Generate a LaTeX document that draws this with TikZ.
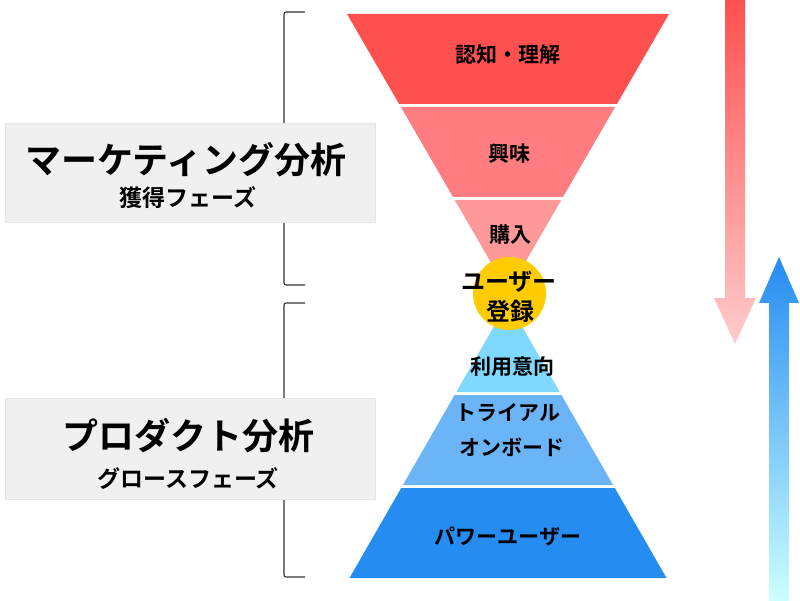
\documentclass[tikz,border=0pt]{standalone}
\usepackage{fontspec}
\setmainfont{Noto Sans CJK JP}[BoldFont={Noto Sans CJK JP Bold}]
\definecolor{rA}{HTML}{FF5050}
\definecolor{rB}{HTML}{FF7C80}
\definecolor{rC}{HTML}{FF9999}
\definecolor{bA}{HTML}{7FD9FF}
\definecolor{bB}{HTML}{6CB4F8}
\definecolor{bC}{HTML}{258CF2}
\definecolor{gold}{HTML}{FFCC00}
\definecolor{boxgray}{HTML}{F0F0F0}
\definecolor{boxline}{HTML}{E6E6E6}
\definecolor{rfade}{HTML}{FFCCCC}
\definecolor{bfade}{HTML}{CCFFFF}
\definecolor{brkcol}{HTML}{333333}
\begin{document}
\begin{tikzpicture}[x=1pt,y=-1pt,
  lbl/.style={font=\bfseries\fontsize{21}{24}\selectfont, text=black, inner sep=0pt},
  circlbl/.style={font=\bfseries\fontsize{24}{27}\selectfont, text=black, inner sep=0pt},
  titlelbl/.style={font=\bfseries\fontsize{36}{40}\selectfont, text=black, inner sep=0pt},
  sublbl/.style={font=\bfseries\fontsize{23}{26}\selectfont, text=black, inner sep=0pt},
  phasebox/.style={fill=boxgray, draw=boxline, line width=0.6pt, inner sep=0pt},
  brk/.style={draw=brkcol, line width=1.1pt, rounded corners=2pt},
  band/.style={draw=none}]
\useasboundingbox (0,0) rectangle (800,601);

% brackets (behind boxes)
\coordinate (b1t) at (305,12);
\coordinate (b1b) at (305,285);
\coordinate (b2t) at (305,303);
\coordinate (b2b) at (305,577);
\draw[brk] (b1t) -- (284,12) -- (284,285) -- (b1b);
\draw[brk] (b2t) -- (284,303) -- (284,577) -- (b2b);

% phase boxes
\node[phasebox, minimum width=370, minimum height=99] (mkbox) at (190,172.5) {};
\node[titlelbl] (mktitle) at (186,160) {マーケティング分析};
\node[sublbl] (mksub) at (188,198) {獲得フェーズ};
\node[phasebox, minimum width=370, minimum height=101] (prbox) at (190,448.5) {};
\node[titlelbl] (prtitle) at (188,436) {プロダクト分析};
\node[sublbl] (prsub) at (188,479) {グロースフェーズ};

% top funnel
\fill[rA] (347,14) -- (669,14) -- (616.9,104) -- (399.1,104) -- cycle;
\fill[rB] (400.9,107) -- (615.1,107) -- (563,197) -- (453,197) -- cycle;
\fill[rC] (454.7,200) -- (561.3,200) -- (508,292) -- cycle;
\node[lbl] (l1) at (508,55) {認知・理解};
\node[lbl] (l2) at (509,154) {興味};
\node[lbl] (l3) at (510,235) {購入};

% bottom pyramid
\fill[bA] (508,302) -- (559.7,392) -- (456.3,392) -- cycle;
\fill[bB] (454.6,395) -- (561.4,395) -- (613.1,485) -- (402.9,485) -- cycle;
\fill[bC] (401.2,488) -- (614.8,488) -- (666.5,578) -- (349.5,578) -- cycle;
\node[lbl] (l4) at (512,367) {利用意向};
\node[lbl, anchor=west] (l5) at (455,413) {トライアル};
\node[lbl, anchor=west] (l6) at (459,447) {オンボード};
\node[lbl] (l7) at (508,537) {パワーユーザー};

% registration circle
\node[circle, fill=gold, minimum size=73, inner sep=0pt] (reg) at (509.5,293.5) {};
\node[circlbl] (reg1) at (509,282) {ユーザー};
\node[circlbl] (reg2) at (510,311) {登録};

% gradient arrows
\shade[top color=rA, bottom color=rfade]
  (725,0) -- (745,0) -- (745,298) -- (756,298) -- (735,344) -- (714,298) -- (725,298) -- cycle;
\shade[top color=bC, bottom color=bfade]
  (779,257) -- (799,303) -- (789,303) -- (789,601) -- (769,601) -- (769,303) -- (759,303) -- cycle;
\end{tikzpicture}
\end{document}
